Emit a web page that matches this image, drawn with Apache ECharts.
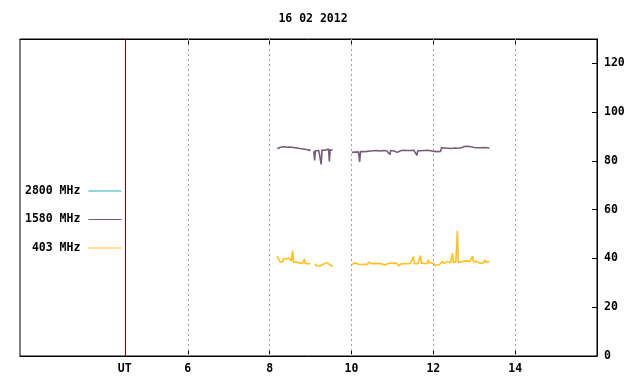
<!DOCTYPE html>
<html>
<head>
<meta charset="utf-8">
<script src="https://cdn.jsdelivr.net/npm/echarts@6/dist/echarts.min.js"></script>
<style>html,body{margin:0;padding:0;background:#fff}#c{width:640px;height:384px}</style>
</head>
<body>
<div id="c"></div>
<script>
var titleText = '16 02 2012';
var hourTicks = [6, 8, 10, 12, 14];
var utPos = 4.46;
var xLabelValues = [4.46, 6, 8, 10, 12, 14];
var seriesNames = ['2800 MHz', '1580 MHz', '403 MHz'];

var mhz2800 = [];

var mhz1580 = [
[8.19,85.0],[8.22,85.4],[8.26,85.6],[8.30,85.3],[8.34,85.8],[8.38,85.9],[8.42,85.6],[8.46,86.0],[8.50,85.7],[8.54,85.9],[8.58,85.5],[8.62,85.7],[8.66,85.3],[8.70,85.6],[8.74,85.1],[8.78,85.4],[8.82,84.9],[8.86,85.2],[8.90,84.7],[8.94,84.9],[8.98,84.3],[9.00,84.6],
[9.04,null],
[9.08,84.0],[9.10,80.2],[9.12,84.2],[9.16,84.6],[9.20,84.3],[9.24,84.8],[9.26,78.6],[9.28,84.5],[9.32,84.9],[9.36,84.4],[9.40,84.7],[9.44,84.9],[9.46,79.8],[9.48,84.6],[9.51,84.8],[9.54,84.5],
[9.80,null],
[10.01,83.5],[10.05,83.9],[10.09,83.6],[10.13,84.0],[10.17,83.7],[10.20,79.6],[10.22,83.8],[10.26,84.1],[10.30,83.8],[10.34,84.2],[10.38,83.9],[10.42,84.4],[10.46,84.1],[10.50,84.5],[10.54,84.2],[10.58,84.6],[10.62,84.3],[10.66,84.5],[10.70,84.1],[10.74,84.6],[10.78,84.3],[10.82,84.7],[10.86,84.2],[10.90,84.5],[10.94,82.6],[10.96,84.3],[11.00,84.6],[11.04,84.1],[11.08,83.8],[11.12,83.5],[11.16,83.7],[11.20,84.2],[11.24,84.6],[11.28,84.4],[11.32,84.8],[11.36,84.3],[11.40,84.0],[11.44,84.3],[11.48,84.1],[11.52,84.4],[11.56,84.0],[11.60,82.3],[11.62,84.2],[11.66,84.5],[11.70,84.2],[11.74,84.6],[11.78,84.3],[11.82,84.7],[11.86,84.4],[11.90,84.6],[11.94,84.2],[11.98,84.5],[12.02,83.9],[12.06,84.1],[12.10,83.8],[12.14,84.0],[12.18,83.9],[12.20,85.4],[12.24,85.6],[12.28,85.3],[12.32,85.5],[12.36,85.2],[12.40,85.5],[12.44,85.1],[12.48,85.4],[12.52,85.3],[12.56,85.6],[12.60,85.2],[12.64,85.5],[12.68,85.4],[12.72,85.7],[12.76,85.9],[12.80,85.6],[12.84,86.0],[12.88,85.7],[12.92,85.8],[12.96,85.3],[13.00,85.5],[13.04,85.2],[13.08,85.4],[13.12,85.1],[13.16,85.4],[13.20,85.2],[13.24,85.5],[13.28,85.3],[13.32,85.4],[13.37,85.2]
];

var mhz403 = [
[8.19,41.0],[8.21,40.0],[8.23,39.3],[8.25,38.8],[8.27,38.2],[8.29,38.0],[8.31,38.4],[8.33,39.2],[8.35,40.1],[8.37,39.5],[8.39,40.3],[8.41,39.8],[8.43,40.6],[8.45,39.9],[8.47,40.2],[8.49,39.6],[8.51,40.3],[8.53,39.0],[8.56,43.2],[8.58,38.6],[8.61,38.2],[8.64,38.5],[8.67,38.0],[8.70,38.3],[8.73,37.8],[8.76,38.1],[8.79,37.9],[8.82,38.2],[8.85,39.8],[8.87,38.0],[8.90,38.3],[8.93,37.9],[8.96,38.2],[9.00,37.8],
[9.05,null],
[9.10,37.8],[9.13,37.4],[9.16,37.0],[9.20,37.1],[9.24,37.0],[9.28,37.3],[9.32,37.7],[9.36,38.0],[9.40,38.3],[9.43,38.0],[9.46,37.6],[9.50,37.2],[9.54,36.7],
[9.80,null],
[10.01,37.4],[10.04,37.7],[10.07,38.2],[10.09,38.8],[10.12,38.0],[10.15,38.3],[10.18,37.6],[10.22,37.9],[10.26,37.5],[10.30,37.0],[10.33,37.6],[10.36,37.8],[10.39,37.5],[10.42,38.5],[10.45,37.7],[10.49,37.9],[10.53,37.6],[10.57,38.0],[10.61,37.7],[10.65,37.9],[10.69,37.6],[10.73,37.8],[10.77,37.5],[10.81,37.3],[10.85,37.6],[10.89,37.8],[10.93,37.5],[10.96,38.1],[11.00,37.8],[11.04,38.0],[11.07,38.6],[11.10,38.1],[11.13,37.6],[11.15,37.0],[11.18,37.5],[11.22,37.8],[11.26,38.2],[11.30,37.9],[11.34,38.1],[11.38,37.8],[11.40,38.4],[11.44,38.0],[11.48,37.8],[11.52,40.8],[11.54,37.9],[11.58,38.1],[11.62,37.8],[11.66,38.0],[11.69,41.2],[11.71,38.1],[11.75,38.3],[11.79,37.9],[11.83,38.2],[11.86,38.0],[11.88,39.5],[11.90,38.3],[11.94,38.0],[11.98,38.2],[12.02,37.6],[12.06,37.2],[12.10,37.0],[12.14,37.4],[12.18,37.6],[12.23,38.8],[12.26,37.9],[12.30,38.1],[12.35,38.8],[12.38,38.0],[12.42,38.2],[12.47,42.1],[12.49,38.4],[12.52,38.8],[12.55,38.5],[12.59,51.3],[12.61,38.2],[12.64,38.4],[12.68,38.6],[12.72,38.3],[12.76,38.9],[12.79,39.4],[12.82,39.0],[12.86,39.4],[12.89,38.7],[12.93,38.5],[12.96,41.0],[12.98,38.6],[13.02,39.0],[13.06,38.8],[13.10,38.3],[13.14,38.0],[13.18,38.4],[13.22,38.2],[13.26,39.4],[13.29,38.4],[13.33,38.0],[13.37,38.7]
];

var FONT = 'DejaVu Sans Mono';
var txt = {fontFamily: FONT, fontWeight: 'bold', fontSize: 11.5, color: '#000'};

var chart = echarts.init(document.getElementById('c'), null, {renderer: 'canvas'});
chart.setOption({
  animation: false,
  backgroundColor: '#fff',
  title: {
    text: titleText, left: 308, top: 8, textAlign: 'center', padding: 5,
    textStyle: {fontFamily: FONT, fontWeight: 'bold', fontSize: 11.5, color: '#000'}
  },
  legend: {
    orient: 'vertical', left: 25, top: 184, align: 'right', padding: 0,
    itemWidth: 33, itemHeight: 1, itemGap: 14.5, icon: 'rect',
    data: seriesNames,
    formatter: function (n) { return n.length < 8 ? (' ' + n) : n; },
    textStyle: Object.assign({}, txt, {lineHeight: 14, padding: [0, 3, 0, 0]})
  },
  grid: {left: 20, right: 43, top: 39, bottom: 28, show: true, borderColor: '#000', borderWidth: 1, containLabel: false},
  xAxis: [{
    type: 'value', min: 1.9, max: 16, position: 'bottom',
    axisLine: {show: true, lineStyle: {color: '#000'}},
    axisTick: {show: true, inside: true, length: 5, customValues: hourTicks, lineStyle: {color: '#000'}},
    axisLabel: Object.assign({}, txt, {
      customValues: xLabelValues, margin: 7,
      formatter: function (v) { return Math.abs(v - utPos) < 0.01 ? 'UT' : String(v); }
    }),
    splitLine: {show: false}
  }, {
    type: 'value', min: 1.9, max: 16, position: 'top',
    axisLine: {show: true, lineStyle: {color: '#000'}},
    axisTick: {show: true, inside: true, length: 5, customValues: hourTicks, lineStyle: {color: '#000'}},
    axisLabel: {show: false},
    splitLine: {show: false}
  }],
  yAxis: {
    type: 'value', min: 0, max: 130, interval: 20, position: 'right',
    axisLine: {show: true, lineStyle: {color: '#000'}},
    axisTick: {show: true, inside: true, length: 5, lineStyle: {color: '#000'}},
    axisLabel: Object.assign({}, txt, {margin: 7, showMaxLabel: false}),
    splitLine: {show: false}
  },
  series: [{
    name: 'grid', type: 'line', data: [], silent: true,
    markLine: {
      silent: true, symbol: 'none', label: {show: false}, animation: false,
      data: hourTicks.map(function (h) {
        return {xAxis: h, lineStyle: {color: '#a0a0a0', type: [2, 3], width: 1}};
      }).concat([{xAxis: utPos, lineStyle: {color: '#800000', type: 'solid', width: 1}}])
    }
  }, {
    name: seriesNames[0], type: 'line', data: mhz2800, showSymbol: false,
    color: '#20b2c0', lineStyle: {width: 1}
  }, {
    name: seriesNames[1], type: 'line', data: mhz1580, showSymbol: false, connectNulls: false,
    color: '#7a5a7c', lineStyle: {width: 1.6}
  }, {
    name: seriesNames[2], type: 'line', data: mhz403, showSymbol: false, connectNulls: false,
    color: '#ffc020', lineStyle: {width: 1.6}
  }]
});
</script>
</body>
</html>
